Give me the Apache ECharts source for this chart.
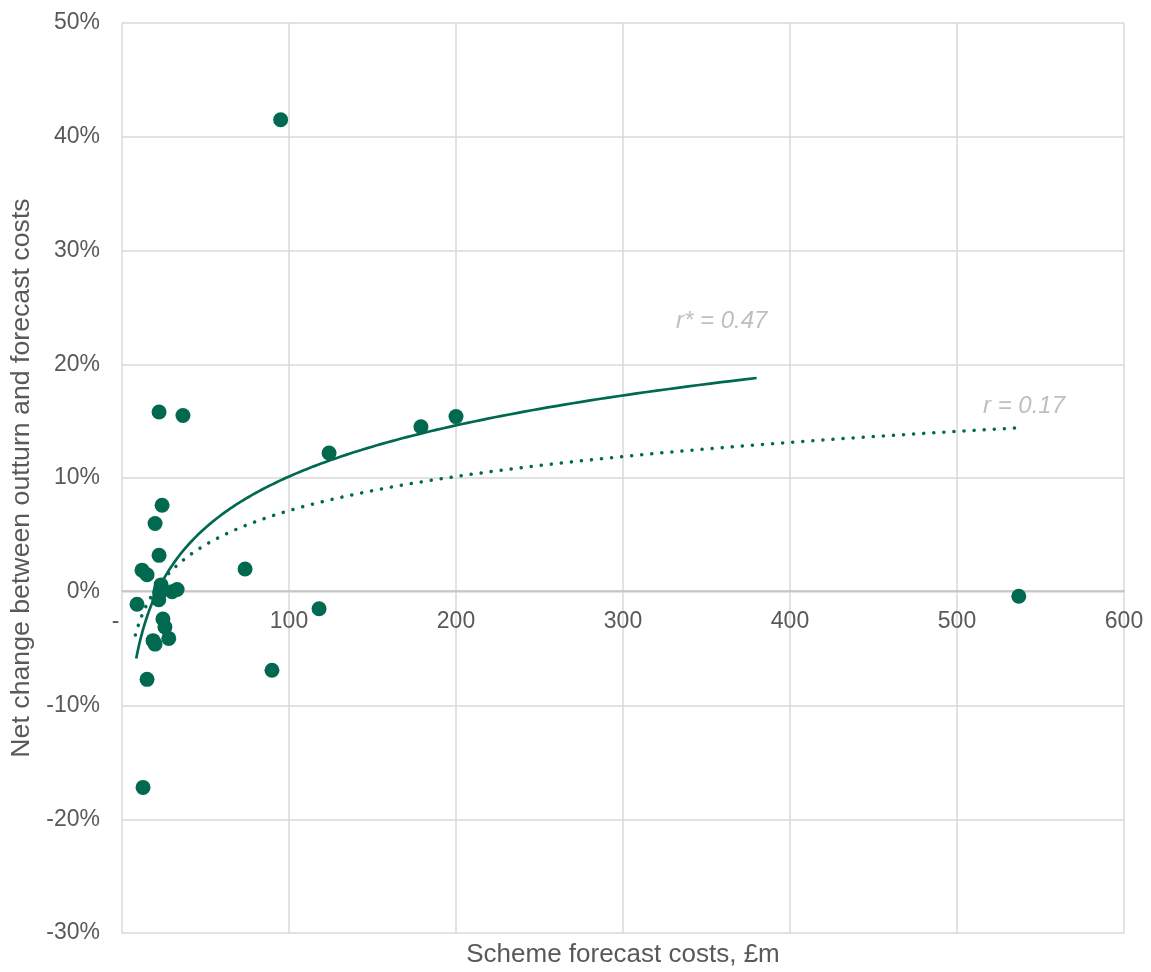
<!DOCTYPE html>
<html>
<head>
<meta charset="utf-8">
<script src="https://cdn.jsdelivr.net/npm/echarts@6/dist/echarts.min.js"></script>
<style>html,body{margin:0;padding:0;background:#fff}#c{width:1151px;height:972px}</style>
</head>
<body>
<div id="c"></div>
<script>
// Scheme forecast costs (£m)
const costs = [95, 22.2, 36.5, 24, 19.8, 22.2, 12, 15, 23.4, 23, 22.5, 22, 30, 33, 9, 24.5, 25.7, 28, 18.6, 19.8, 15, 12.6, 73.7, 89.8, 118, 124, 179, 200, 537];
// Net change between outturn and forecast costs (%)
const changes = [41.5, 15.8, 15.5, 7.6, 6.0, 3.2, 1.9, 1.5, 0.6, 0.2, -0.1, -0.7, 0.0, 0.2, -1.1, -2.4, -3.1, -4.1, -4.3, -4.6, -7.7, -17.2, 2.0, -6.9, -1.5, 12.2, 14.5, 15.4, -0.4];
// Logarithmic trend lines: y = a*ln(x) + b, drawn over [xStart, xEnd]
const trendSolid = [6.49, -19.76, 8.5, 380];
const trendDotted = [4.33, -12.81, 8.0, 537];
const xTicks = [0, 100, 200, 300, 400, 500, 600];
const yTicks = [-30, -20, -10, 0, 10, 20, 30, 40, 50];
const labels = ['r* = 0.47', 'r = 0.17'];

function trend(t) {
  const pts = [];
  const n = 200;
  for (let i = 0; i <= n; i++) {
    const x = t[2] * Math.pow(t[3] / t[2], i / n);
    pts.push([x, t[0] * Math.log(x) + t[1]]);
  }
  return pts;
}

const green = '#006950';
const txt = '#595959';
const font = 'Liberation Sans, Arial, sans-serif';
const chart = echarts.init(document.getElementById('c'));
chart.setOption({
  animation: false,
  grid: { left: 122, right: 27, top: 23, bottom: 39, containLabel: false, outerBoundsMode: 'none' },
  xAxis: {
    type: 'value', min: xTicks[0], max: xTicks[xTicks.length - 1], interval: 100,
    offset: -342,
    axisLine: { show: true, onZero: false, lineStyle: { color: '#bfbfbf', width: 1.5 } },
    axisTick: { show: false },
    splitLine: { show: true, lineStyle: { color: '#d9d9d9', width: 1.5 } },
    axisLabel: { color: txt, fontSize: 23, fontFamily: font, margin: 19,
      formatter: v => v === 0 ? '-  ' : String(v) },
    name: 'Scheme forecast costs, £m', nameLocation: 'middle', nameGap: 351,
    nameTextStyle: { color: txt, fontSize: 26, fontFamily: font }
  },
  yAxis: {
    type: 'value', min: yTicks[0], max: yTicks[yTicks.length - 1], interval: 10,
    axisLine: { show: false }, axisTick: { show: false },
    splitLine: { show: true, lineStyle: { color: '#d9d9d9', width: 1.5 } },
    axisLabel: { color: txt, fontSize: 23, fontFamily: font, margin: 22, formatter: v => v + '%' },
    name: 'Net change between outturn and forecast costs', nameLocation: 'middle', nameGap: 84,
    nameRotate: 90,
    nameTextStyle: { color: txt, fontSize: 26.7, fontFamily: font }
  },
  series: [
    { type: 'line', data: trend(trendSolid), showSymbol: false, symbol: 'none',
      lineStyle: { color: green, width: 2.7 }, z: 2 },
    { type: 'line', data: trend(trendDotted), showSymbol: false, symbol: 'none',
      lineStyle: { color: green, width: 3.5, type: [0.1, 10], cap: 'round' }, z: 2 },
    { type: 'scatter', data: costs.map((c, i) => [c, changes[i]]), symbolSize: 15,
      itemStyle: { color: green, opacity: 1 }, z: 3 }
  ],
  graphic: [
    { type: 'text', left: 676, top: 309, style: { text: labels[0], fill: '#bfbfbf', fontSize: 24, fontStyle: 'italic', fontFamily: font } },
    { type: 'text', left: 983, top: 394, style: { text: labels[1], fill: '#bfbfbf', fontSize: 24, fontStyle: 'italic', fontFamily: font } }
  ]
});
</script>
</body>
</html>
